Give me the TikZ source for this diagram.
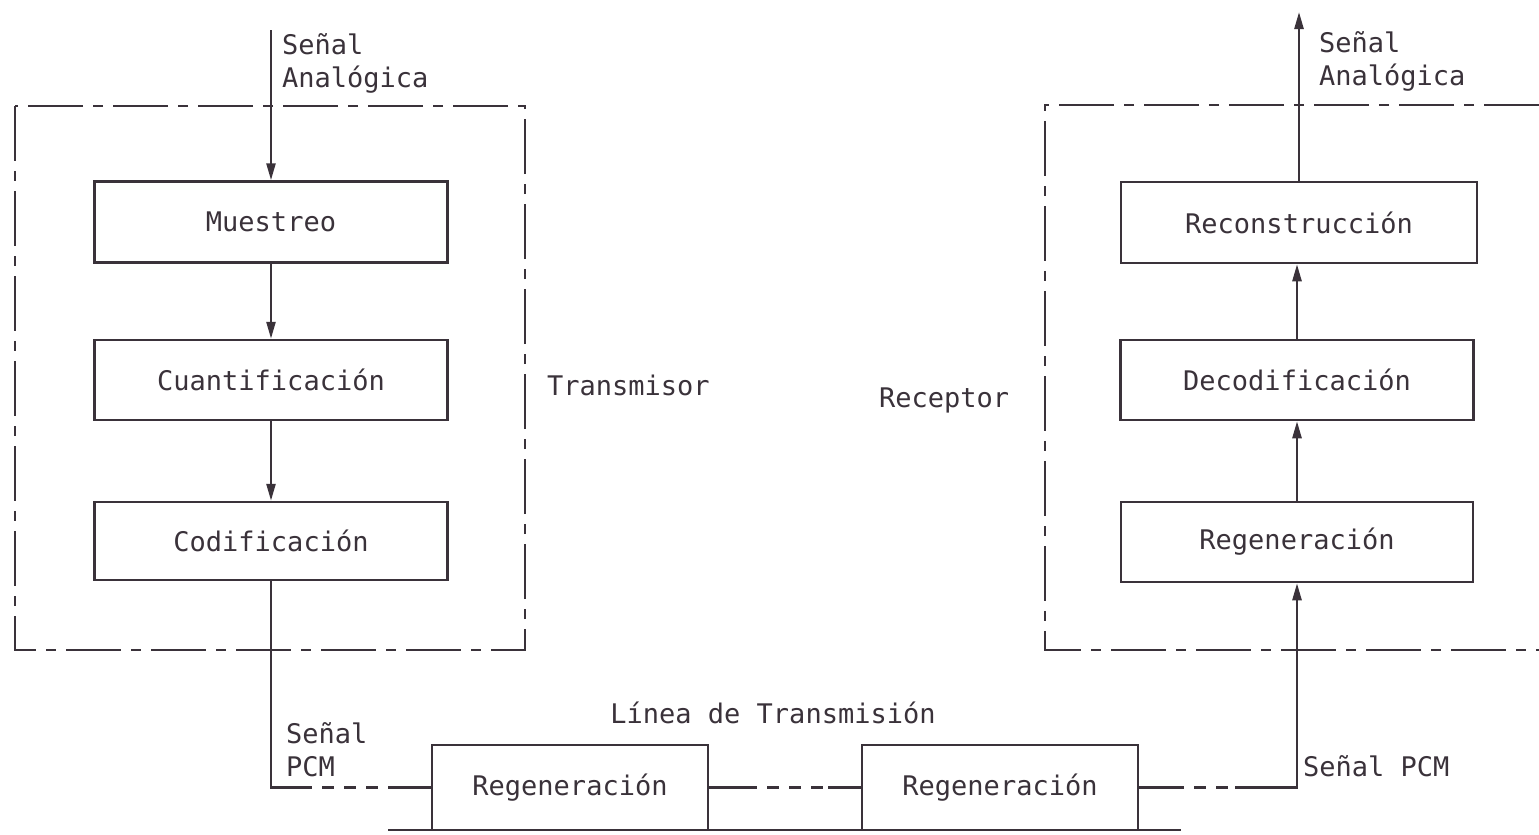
\documentclass[tikz,border=0pt]{standalone}
\usepackage{fontspec}
\setmonofont{DejaVu Sans Mono}
\usetikzlibrary{arrows.meta}
\definecolor{ink}{RGB}{58,50,58}
\begin{document}
\begin{tikzpicture}[x=1pt,y=-1pt,
  ink/.style={draw=ink,line width=2.5pt},
  blk/.style={ink,rectangle,inner sep=0pt,minimum width=353pt,minimum height=81pt,
              font=\fontsize{27}{33}\selectfont\ttfamily,text=ink},
  lbl/.style={inner sep=0pt,font=\fontsize{27}{33}\selectfont\ttfamily,text=ink,align=left},
  arr/.style={ink,-{Triangle[length=17pt,width=9pt]}},
  frame/.style={ink,dash pattern=on 55pt off 10pt on 10pt off 10pt},
  dsh/.style={ink,dash pattern=on 12pt off 10pt}]
\useasboundingbox (0,0) rectangle (1539,835);
% transmitter
\node[blk] (mue) at (271,222) {Muestreo};
\node[blk,minimum height=80pt] (cua) at (271,380) {Cuantificación};
\node[blk,minimum height=78pt] (cod) at (271,541) {Codificación};
\draw[frame] (15,106) rectangle (525,650);
\coordinate (in) at (271,30);
\draw[arr] (in) -- (mue.north);
\draw[arr] (mue) -- (cua);
\draw[arr] (cua) -- (cod);
\node[lbl,anchor=west] (sa1) at (282,63) {Señal\\Analógica};
\node[lbl,anchor=west] (tx) at (547,385) {Transmisor};
% receiver
\node[blk,minimum width=356pt] (rec) at (1299,222.5) {Reconstrucción};
\node[blk,minimum height=80pt] (dec) at (1297,380) {Decodificación};
\node[blk,minimum width=352pt,minimum height=80pt] (regr) at (1297,542) {Regeneración};
\draw[frame] (1539,105) -- (1045,105) -- (1045,650) -- (1539,650);
\coordinate (out) at (1299,12);
\draw[arr] (regr.north) -- (regr.north |- dec.south);
\draw[arr] (dec.north) -- (dec.north |- rec.south);
\draw[arr] (rec.north) -- (out);
\node[lbl,anchor=west] (sa2) at (1319,61) {Señal\\Analógica};
\node[lbl,anchor=west] (rx) at (879,400) {Receptor};
% line
\node[blk,minimum width=276pt,minimum height=85pt] (reg1) at (570,787.5) {Regeneración};
\node[blk,minimum width=276pt,minimum height=85pt] (reg2) at (1000,787.5) {Regeneración};
\coordinate (b1) at (388,830);
\coordinate (b2) at (1181,830);
\draw[ink] (b1) -- (b2);
\node[lbl] (lt) at (773,713) {Línea de Transmisión};
\coordinate (k1) at (300,787.5);
\coordinate (k2) at (388,787.5);
\draw[ink] (cod.south) |- (k1);
\draw[dsh] (k1) -- (k2);
\draw[ink] (k2) -- (reg1.west);
\coordinate (m1) at (745,787.5);
\coordinate (m2) at (828,787.5);
\draw[ink] (reg1.east) -- (m1);
\draw[dsh] (m1) -- (m2);
\draw[ink] (m2) -- (reg2.west);
\coordinate (r1) at (1172,787.5);
\coordinate (r2) at (1235,787.5);
\draw[ink] (reg2.east) -- (r1);
\draw[dsh] (r1) -- (r2);
\draw[arr] (r2) -| (regr.south);
\node[lbl,anchor=west] (sp1) at (286,750) {Señal\\PCM};
\node[lbl,anchor=west] (sp2) at (1303,766) {Señal PCM};
\end{tikzpicture}
\end{document}
